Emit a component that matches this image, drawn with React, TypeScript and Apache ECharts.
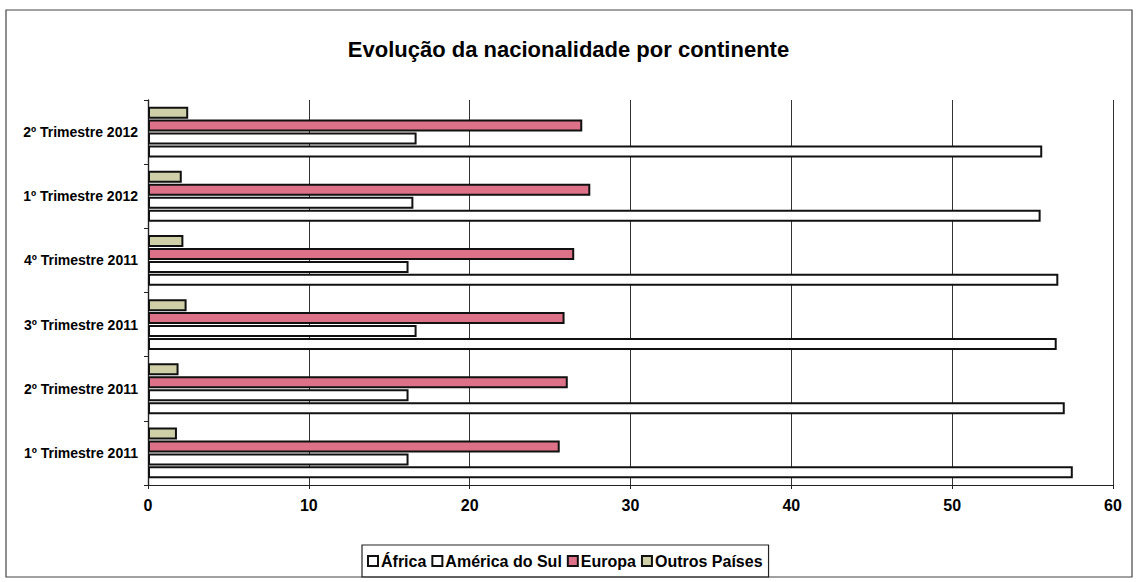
import React, { useEffect, useRef } from "react";
import * as echarts from "echarts";

const categories = [
  "1º Trimestre 2011",
  "2º Trimestre 2011",
  "3º Trimestre 2011",
  "4º Trimestre 2011",
  "1º Trimestre 2012",
  "2º Trimestre 2012",
];
const africa = [57.5, 57.0, 56.5, 56.6, 55.5, 55.6];
const americaSul = [16.2, 16.2, 16.7, 16.2, 16.5, 16.7];
const europa = [25.6, 26.1, 25.9, 26.5, 27.5, 27.0];
const outros = [1.8, 1.9, 2.4, 2.2, 2.1, 2.5];
const xTicks = [0, 10, 20, 30, 40, 50, 60];
const legendNames = ["África", "América do Sul", "Europa", "Outros Países"];

export default function App() {
  const ref = useRef<HTMLDivElement>(null);
  useEffect(() => {
    document.body.style.margin = "0";
    const chart = echarts.init(ref.current!, null, { renderer: "svg" });
    const font = "'Liberation Sans', Arial, sans-serif";
    const mk = (name: string, data: number[], color: string) => ({
      name,
      type: "bar",
      data,
      barWidth: 12,
      barGap: "8%",
      itemStyle: { color, borderColor: "#111", borderWidth: 2 },
    });
    chart.setOption({
      animation: false,
      backgroundColor: "#fff",
      title: {
        text: "Evolução da nacionalidade por continente",
        left: "center",
        top: 33,
        textStyle: { fontFamily: font, fontSize: 22, fontWeight: "bold", color: "#000" },
      },
      graphic: [
        {
          type: "rect",
          shape: { x: 6, y: 10, width: 1126, height: 567 },
          style: { fill: "none", stroke: "#444", lineWidth: 1.2 },
          silent: true,
        },
      ],
      legend: {
        bottom: 5,
        left: 362,
        data: legendNames,
        icon: "rect",
        itemWidth: 10,
        itemHeight: 10,
        itemGap: 5,
        borderColor: "#222",
        borderWidth: 1.2,
        borderRadius: 0,
        padding: [8, 6, 8, 5],
        textStyle: {
          fontFamily: font,
          fontSize: 16,
          fontWeight: "bold",
          color: "#000",
          padding: [0, 0, 0, -2],
        },
      },
      grid: { left: 148, right: 24, top: 100, bottom: 97 },
      xAxis: {
        type: "value",
        min: xTicks[0],
        max: xTicks[xTicks.length - 1],
        interval: 10,
        axisLine: { show: true, lineStyle: { color: "#222", width: 1.2 } },
        axisTick: { show: true, length: 4, lineStyle: { color: "#222" } },
        axisLabel: {
          fontFamily: font,
          fontSize: 16,
          fontWeight: "bold",
          color: "#000",
          margin: 12,
        },
        splitLine: { show: true, lineStyle: { color: "#333", width: 1 } },
      },
      yAxis: {
        type: "category",
        data: categories,
        axisLine: { show: true, lineStyle: { color: "#222", width: 1.4 } },
        axisTick: { show: true, length: 4, lineStyle: { color: "#222" } },
        axisLabel: {
          fontFamily: font,
          fontSize: 14,
          fontWeight: "bold",
          color: "#000",
          margin: 10,
        },
        splitLine: { show: false },
      },
      series: [
        mk("Outros Países", outros, "#cfd0a8"),
        mk("Europa", europa, "#dc7187"),
        mk("América do Sul", americaSul, "#ffffff"),
        mk("África", africa, "#ffffff"),
      ],
    });
    return () => chart.dispose();
  }, []);
  return <div ref={ref} style={{ width: 1137, height: 582 }} />;
}
